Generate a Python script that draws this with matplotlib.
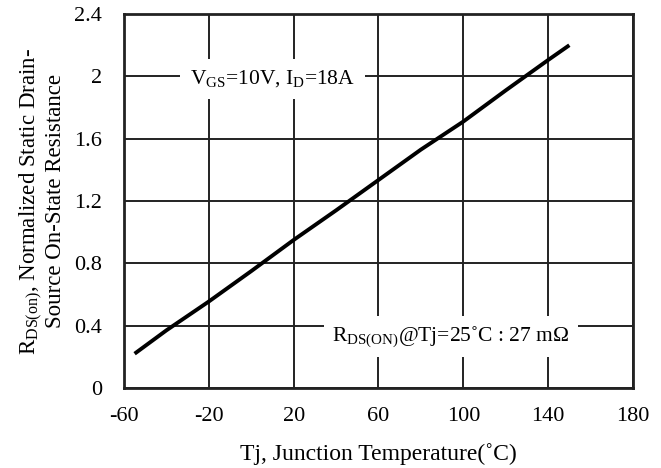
import matplotlib
matplotlib.use("Agg")
import matplotlib.pyplot as plt

plt.rcParams["font.family"] = ["Liberation Serif", "DejaVu Serif"]
plt.rcParams["mathtext.fontset"] = "custom"
plt.rcParams["mathtext.rm"] = "Liberation Serif"
plt.rcParams["mathtext.it"] = "Liberation Serif:italic"
plt.rcParams["axes.unicode_minus"] = False

# junction temperature (C) and normalized on-resistance
tj = [-55, -40, -20, 0, 20, 40, 60, 80, 100, 120, 140, 150]
rds_norm = [0.22, 0.37, 0.555, 0.75, 0.95, 1.14, 1.335, 1.53, 1.71, 1.91, 2.105, 2.2]

x_ticks = [-60, -20, 20, 60, 100, 140, 180]
y_ticks = [0, 0.4, 0.8, 1.2, 1.6, 2.0, 2.4]
y_tick_labels = ["0", "0.4", "0.8", "1.2", "1.6", "2", "2.4"]

fig = plt.figure(figsize=(6.61, 4.68), dpi=100)
ax = fig.add_axes([0.1876, 0.171, 0.770, 0.799])

ax.plot(tj, rds_norm, color="black", lw=2.8, solid_capstyle="butt", zorder=3)

ax.set_xlim(-60, 180)
ax.set_ylim(0, 2.4)
ax.set_xticks(x_ticks)
ax.set_yticks(y_ticks)
ax.set_yticklabels(y_tick_labels)
ax.tick_params(axis="both", length=0, labelsize=16)
ax.tick_params(axis="x", pad=14)
ax.tick_params(axis="y", pad=16)
ax.grid(True, color="#222222", lw=1.4)
ax.set_axisbelow(True)
for sp in ax.spines.values():
    sp.set_linewidth(2)
    sp.set_color("#222222")

ax.set_xlabel("Tj, Junction Temperature(˚C)", fontsize=17, labelpad=12)
ax.set_ylabel("R$_{\\rm DS(on)}$, Normalized Static Drain-\nSource On-State Resistance",
              fontsize=16.5, labelpad=6, linespacing=0.95)

ax.text(10, 1.985, "V$_{\\rm GS}$=10V, I$_{\\rm D}$=18A", fontsize=15.5,
        ha="center", va="center", zorder=2,
        bbox=dict(facecolor="white", edgecolor="none", pad=7))
ax.text(94, 0.33, "R$_{\\rm DS(ON)}$@Tj=25˚C : 27 mΩ", fontsize=15.5,
        ha="center", va="center", zorder=2,
        bbox=dict(facecolor="white", edgecolor="none", pad=6))

fig.savefig("out.png", dpi=100)
